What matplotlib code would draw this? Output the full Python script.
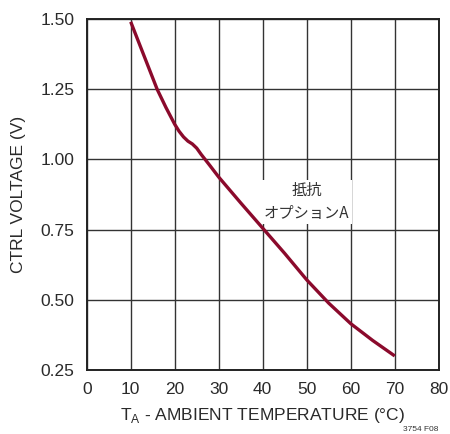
import matplotlib.pyplot as plt
from matplotlib import font_manager

# CTRL voltage vs ambient temperature, resistor option A
temp_c = [10, 12, 14, 16, 18, 20, 21, 22, 23, 24, 25, 26, 27, 28, 30, 35, 40, 45, 50, 55, 60, 65, 70]
ctrl_v = [1.49, 1.41, 1.33, 1.25, 1.185, 1.125, 1.10, 1.08, 1.065, 1.055, 1.04, 1.018, 0.998, 0.978,
          0.937, 0.845, 0.755, 0.665, 0.571, 0.488, 0.415, 0.355, 0.30]

x_ticks = [0, 10, 20, 30, 40, 50, 60, 70, 80]
y_ticks = [0.25, 0.50, 0.75, 1.00, 1.25, 1.50]
y_tick_labels = ["0.25", "0.50", "0.75", "1.00", "1.25", "1.50"]

names = {f.name for f in font_manager.fontManager.ttflist}
latin = "Liberation Sans Narrow" if "Liberation Sans Narrow" in names else "Liberation Sans"
plt.rcParams['font.family'] = [latin, 'Noto Sans CJK JP', 'DejaVu Sans']

fig = plt.figure(figsize=(4.5, 4.34), dpi=100)
ax = fig.add_axes([0.1927, 0.1475, 0.7823, 0.8087])

ax.plot(temp_c, ctrl_v, color='#8b0a2c', linewidth=2.4, solid_capstyle='butt',
        solid_joinstyle='round', zorder=3)

ax.set_xlim(0, 80)
ax.set_ylim(0.25, 1.50)
ax.set_xticks(x_ticks)
ax.set_yticks(y_ticks)
ax.set_yticklabels(y_tick_labels)
ax.tick_params(length=0, labelsize=12.5, pad=9, colors='#2a2a2a')
ax.grid(True, color='#333333', linewidth=1.0)
for s in ax.spines.values():
    s.set_linewidth(1.4)
    s.set_color('#222222')

ax.set_xlabel("T$_\\mathregular{A}$ - AMBIENT TEMPERATURE (°C)", fontsize=12.5, color='#2a2a2a', labelpad=6)
ax.set_ylabel("CTRL VOLTAGE (V)", fontsize=12.5, color='#2a2a2a', labelpad=10)

ax.text(50, 0.848, "抵抗\nオプションA", ha='center', va='center', fontsize=11,
        color='#333333', linespacing=1.45,
        family=['Noto Sans CJK JP', latin],
        bbox=dict(facecolor='white', edgecolor='none', pad=1.5), zorder=2)

fig.text(0.975, 0.003, "3754 F08", ha='right', va='bottom', fontsize=6, color='#333333')

fig.savefig("out.png", dpi=100)
